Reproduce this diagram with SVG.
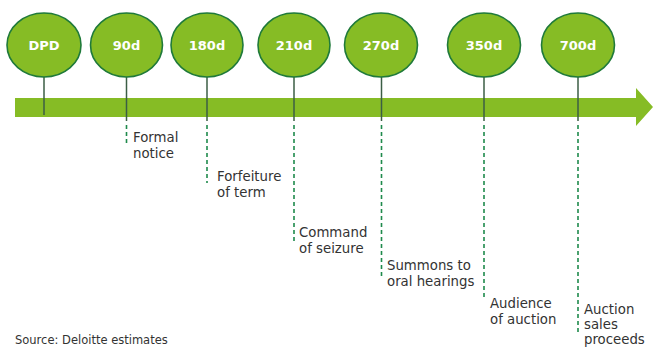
<svg xmlns="http://www.w3.org/2000/svg" width="653" height="347" viewBox="0 0 653 347">
<style>
.node ellipse{fill:#86bc25;stroke:#1f7a3a;stroke-width:1.6}
.node text{font-family:"DejaVu Sans",Verdana,sans-serif;font-size:13px;font-weight:bold;fill:#fff;text-anchor:middle}
.stem{stroke:#3b5e45;stroke-width:1.5}
.dash{stroke:#1f8a4c;stroke-width:1.6;stroke-dasharray:4 3}
.lbl{font-family:"DejaVu Sans",Verdana,sans-serif;font-size:13.3px;fill:#333}
.src{font-family:"DejaVu Sans",Verdana,sans-serif;font-size:11.5px;fill:#333}
</style>
<rect width="653" height="347" fill="#fff"/>
<polygon id="timeline" points="15,98 636,98 636,88 653,107 636,126 636,117 15,117" fill="#86bc25"/>
<g id="connectors">
<line class="stem" x1="44" y1="77" x2="44" y2="115"/>
<line class="stem" x1="126.5" y1="77" x2="126.5" y2="121"/>
<line class="dash" x1="126.5" y1="125" x2="126.5" y2="144"/>
<line class="stem" x1="207" y1="77" x2="207" y2="121"/>
<line class="dash" x1="207" y1="125" x2="207" y2="183"/>
<line class="stem" x1="294" y1="77" x2="294" y2="121"/>
<line class="dash" x1="294" y1="125" x2="294" y2="242"/>
<line class="stem" x1="381.5" y1="77" x2="381.5" y2="121"/>
<line class="dash" x1="381.5" y1="125" x2="381.5" y2="277"/>
<line class="stem" x1="484" y1="77" x2="484" y2="121"/>
<line class="dash" x1="484" y1="125" x2="484" y2="297"/>
<line class="stem" x1="578" y1="77" x2="578" y2="121"/>
<line class="dash" x1="578" y1="125" x2="578" y2="335"/>
</g>
<g id="n-dpd" class="node"><ellipse cx="44" cy="45" rx="37" ry="32"/><text x="44" y="50">DPD</text></g>
<g id="n-90" class="node"><ellipse cx="126.5" cy="45" rx="36" ry="32"/><text x="126.5" y="50">90d</text></g>
<g id="n-180" class="node"><ellipse cx="207" cy="45" rx="36" ry="32"/><text x="207" y="50">180d</text></g>
<g id="n-210" class="node"><ellipse cx="294" cy="45" rx="36" ry="32"/><text x="294" y="50">210d</text></g>
<g id="n-270" class="node"><ellipse cx="381" cy="45" rx="36.5" ry="32"/><text x="381" y="50">270d</text></g>
<g id="n-350" class="node"><ellipse cx="484" cy="45" rx="36.5" ry="32"/><text x="484" y="50">350d</text></g>
<g id="n-700" class="node"><ellipse cx="578" cy="45" rx="36.5" ry="32"/><text x="578" y="50">700d</text></g>
<g id="labels">
<text class="lbl" x="133" y="142">Formal<tspan x="133" y="158">notice</tspan></text>
<text class="lbl" x="217" y="181">Forfeiture<tspan x="217" y="197">of term</tspan></text>
<text class="lbl" x="299" y="237">Command<tspan x="299" y="253">of seizure</tspan></text>
<text class="lbl" x="387" y="270">Summons to<tspan x="387" y="286">oral hearings</tspan></text>
<text class="lbl" x="490" y="308">Audience<tspan x="490" y="324">of auction</tspan></text>
<text class="lbl" x="584" y="314">Auction<tspan x="584" y="329">sales</tspan><tspan x="584" y="343.5">proceeds</tspan></text>
</g>
<text class="src" x="15" y="344">Source: Deloitte estimates</text>
</svg>
